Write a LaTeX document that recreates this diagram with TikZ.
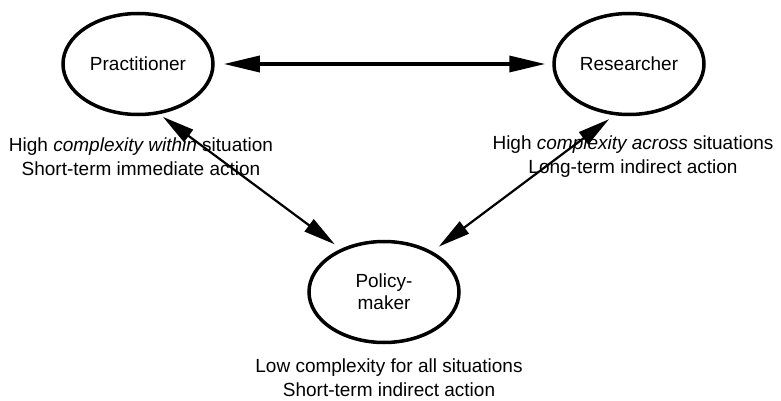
\documentclass[tikz,border=0pt]{standalone}
\usepackage{fontspec}
\setmainfont{Liberation Sans}
\usetikzlibrary{shapes.geometric,arrows.meta}
\begin{document}
\begin{tikzpicture}[x=1pt,y=-1pt,
  actor/.style={ellipse,draw,line width=3.5pt,minimum width=150pt,minimum height=101pt,
    inner sep=0pt,align=center,font=\fontsize{19}{22}\selectfont},
  desc/.style={align=center,inner sep=0pt,font=\fontsize{19}{24}\selectfont},
  bigarrow/.style={line width=3.5pt,{Triangle[length=36pt,width=16pt]}-{Triangle[length=36pt,width=16pt]}},
  link/.style={line width=2.2pt,{Triangle[length=32pt,width=15pt]}-{Triangle[length=32pt,width=15pt]}}
]
\useasboundingbox (0,0) rectangle (781,401);
\node[actor] (prac) at (138,64) {Practitioner};
\node[actor] (res) at (629,64) {Researcher};
\node[actor] (pol) at (384,292) {Policy-\\maker};

\node[desc] (dprac) at (141,157) {High \textit{complexity within} situation\\Short-term immediate action};
\node[desc] (dres) at (633,157) {High \textit{complexity across} situations\\Long-term indirect action};
\node[desc] (dpol) at (389,378) {Low complexity for all situations\\Short-term indirect action};

\draw[bigarrow,shorten <=9pt,shorten >=7pt] (prac) -- (res);
\draw[link,shorten <=4.5pt,shorten >=7.5pt] (prac.-67.5) -- (pol.135.6);
\draw[link,shorten <=6.5pt,shorten >=8pt] (res.-106.9) -- (pol.40.9);
\end{tikzpicture}
\end{document}
